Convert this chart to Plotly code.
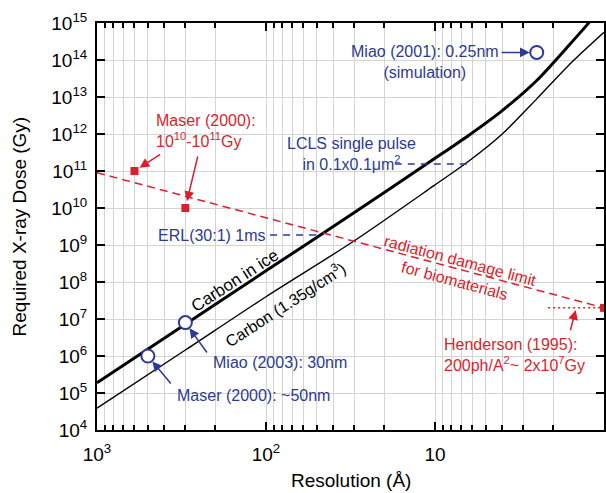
import math
import plotly.graph_objects as go

# ---------------- data ----------------
carbon_ice_res = [1000, 300, 100, 30, 10, 6.3, 4, 2.5, 1.6, 1.26, 1]
carbon_ice_dose = [1.9e5, 7.2e6, 2.0e8, 7.6e9, 2.2e11, 9.3e11, 4.3e12, 2.8e13, 2.6e14, 8.9e14, 3.2e15]

carbon_res = [1000, 300, 100, 30, 10, 6.3, 4, 2.5, 1.6, 1]
carbon_dose = [3.9e4, 1.45e6, 4.0e7, 1.3e9, 4.2e10, 1.86e11, 1.0e12, 8.9e12, 7.6e13, 5.6e14]

damage_limit_res = [1000, 1]
damage_limit_dose = [9e10, 2e7]

henderson_res = [2.14, 1]
henderson_dose = [2e7, 2e7]

lcls_res = [17.3, 6.0]
lcls_dose = [1.55e11, 1.55e11]

erl_res = [94.6, 49]
erl_dose = [1.86e9, 1.86e9]

blue_pts_res = [500, 300, 2.5]
blue_pts_dose = [1e6, 8e6, 1.6e14]

red_pts_res = [600, 300, 1]
red_pts_dose = [1e11, 1e10, 2e7]

x_tickvals = [1000, 100, 10, 1]
x_ticktext = ['10<sup>3</sup>', '10<sup>2</sup>', '10', '1']
x_minor_vals = [m * 10 ** k for k in range(0, 3) for m in range(2, 10)]
y_tickvals = [10 ** k for k in range(4, 16)]
y_ticktext = ['10<sup>%d</sup>' % k for k in range(4, 16)]

BLUE = '#2e3a92'
RED = '#dc1e2d'
FONT = 'Liberation Sans, Arial, sans-serif'
GRID = '#d4d4d4'
L = math.log10

fig = go.Figure()

fig.add_trace(go.Scatter(x=carbon_ice_res, y=carbon_ice_dose, mode='lines',
                         line=dict(color='black', width=3, shape='spline', smoothing=0.8)))
fig.add_trace(go.Scatter(x=carbon_res, y=carbon_dose, mode='lines',
                         line=dict(color='black', width=1.4, shape='spline', smoothing=0.8)))
fig.add_trace(go.Scatter(x=damage_limit_res, y=damage_limit_dose, mode='lines',
                         line=dict(color=RED, width=1.5, dash='8px,5px')))
fig.add_trace(go.Scatter(x=henderson_res, y=henderson_dose, mode='lines',
                         line=dict(color=RED, width=1.5, dash='2px,3px')))
fig.add_trace(go.Scatter(x=lcls_res, y=lcls_dose, mode='lines',
                         line=dict(color=BLUE, width=1.5, dash='7px,6px')))
fig.add_trace(go.Scatter(x=erl_res, y=erl_dose, mode='lines',
                         line=dict(color=BLUE, width=1.5, dash='7px,6px')))
fig.add_trace(go.Scatter(x=red_pts_res, y=red_pts_dose, mode='markers',
                         marker=dict(symbol='square', size=8, color=RED)))
fig.add_trace(go.Scatter(x=blue_pts_res, y=blue_pts_dose, mode='markers',
                         marker=dict(symbol='circle', size=13, color='white',
                                     line=dict(color=BLUE, width=2))))

ann = []


def text(x, y, t, color, xanchor='center', align='center', angle=0, size=16):
    ann.append(dict(x=L(x), y=L(y), xref='x', yref='y', text=t, showarrow=False,
                    xanchor=xanchor, yanchor='middle', align=align, textangle=angle,
                    font=dict(family=FONT, size=size, color=color)))


def arrow(x, y, ax, ay, color, standoff=6):
    ann.append(dict(x=L(x), y=L(y), ax=L(ax), ay=L(ay), xref='x', yref='y',
                    axref='x', ayref='y', text='', showarrow=True, arrowhead=2,
                    arrowsize=1.3, arrowwidth=1.5, arrowcolor=color, standoff=standoff))


text(10 ** 1.062, 10 ** 13.946, 'Miao (2001): 0.25nm<br>(simulation)', BLUE)
arrow(2.5, 1.6e14, 10 ** 0.615, 1.6e14, BLUE, standoff=7)
text(10 ** 1.497, 10 ** 11.473, 'LCLS single pulse<br>in 0.1x0.1\u03bcm<sup>2</sup>', BLUE)
text(10 ** 2.3225, 10 ** 9.27, 'ERL(30:1) 1ms', BLUE)
text(10 ** 2.325, 10 ** 5.811, 'Miao (2003): 30nm', BLUE, xanchor='left', align='left')
arrow(300, 8e6, 10 ** 2.343, 10 ** 6.054, BLUE, standoff=7)
text(10 ** 2.538, 10 ** 4.946, 'Maser (2000): ~50nm', BLUE, xanchor='left', align='left')
arrow(500, 1e6, 10 ** 2.556, 10 ** 5.216, BLUE, standoff=7)

text(10 ** 2.663, 10 ** 12.08, 'Maser (2000):<br>10<sup>10</sup>-10<sup>11</sup>Gy', RED,
     xanchor='left', align='left')
arrow(600, 1e11, 10 ** 2.617, 10 ** 11.478, RED, standoff=6)
arrow(300, 1e10, 10 ** 2.402, 10 ** 11.432, RED, standoff=7)
text(10 ** 0.9586, 10 ** 6.027, 'Henderson (1995):<br>200ph/A<sup>2</sup>~ 2x10<sup>7</sup>Gy', RED,
     xanchor='left', align='left')
arrow(10 ** 0.1677, 10 ** 7.243, 10 ** 0.201, 10 ** 6.657, RED, standoff=0)

# rotated labels (positions computed from pixel estimates)
text(10 ** 0.864, 10 ** 8.30, 'radiation damage limit<br>for biomaterials', RED, angle=15)
text(152, 10 ** 8.03, 'Carbon in ice', 'black', angle=-33, size=17)
text(77.3, 10 ** 7.41, 'Carbon (1.35g/cm<sup>3</sup>)', 'black', angle=-33)

# axis titles
ann.append(dict(x=0.5, y=-0.1229, xref='paper', yref='paper', text='Resolution (\u00c5)',
                showarrow=False, xanchor='center', yanchor='middle',
                font=dict(family=FONT, size=19, color='black')))
ann.append(dict(x=-0.152, y=0.5, xref='paper', yref='paper', text='Required X-ray Dose (Gy)',
                showarrow=False, xanchor='center', yanchor='middle', textangle=-90,
                font=dict(family=FONT, size=19, color='black')))

fig.update_layout(
    width=606, height=493,
    margin=dict(l=97, r=2, t=23, b=63, autoexpand=False),
    paper_bgcolor='white', plot_bgcolor='white',
    showlegend=False,
    font=dict(family=FONT, size=19, color='black'),
    annotations=ann,
    xaxis=dict(type='log', range=[3, 0], tickmode='array', tickvals=x_tickvals,
               ticktext=x_ticktext, ticks='inside', ticklen=8, tickwidth=1.5,
               tickcolor='black', showline=True, linewidth=2, linecolor='black',
               mirror='ticks', showgrid=True, gridcolor=GRID, gridwidth=1,
               zeroline=False, ticklabelstandoff=6, automargin=False,
               minor=dict(tickmode='array', tickvals=x_minor_vals, ticks='inside',
                          ticklen=5, tickwidth=1.5, tickcolor='black',
                          showgrid=True, gridcolor=GRID, gridwidth=1)),
    yaxis=dict(type='log', range=[4, 15], tickmode='array', tickvals=y_tickvals,
               ticktext=y_ticktext, ticks='inside', ticklen=8, tickwidth=1.5,
               tickcolor='black', showline=True, linewidth=2, linecolor='black',
               mirror='ticks', showgrid=True, gridcolor=GRID, gridwidth=1,
               zeroline=False, ticklabelstandoff=4, automargin=False),
)

fig.write_html('out.html', config={'displayModeBar': False},
               post_script="document.body.style.margin='0';document.body.style.overflow='hidden';")
